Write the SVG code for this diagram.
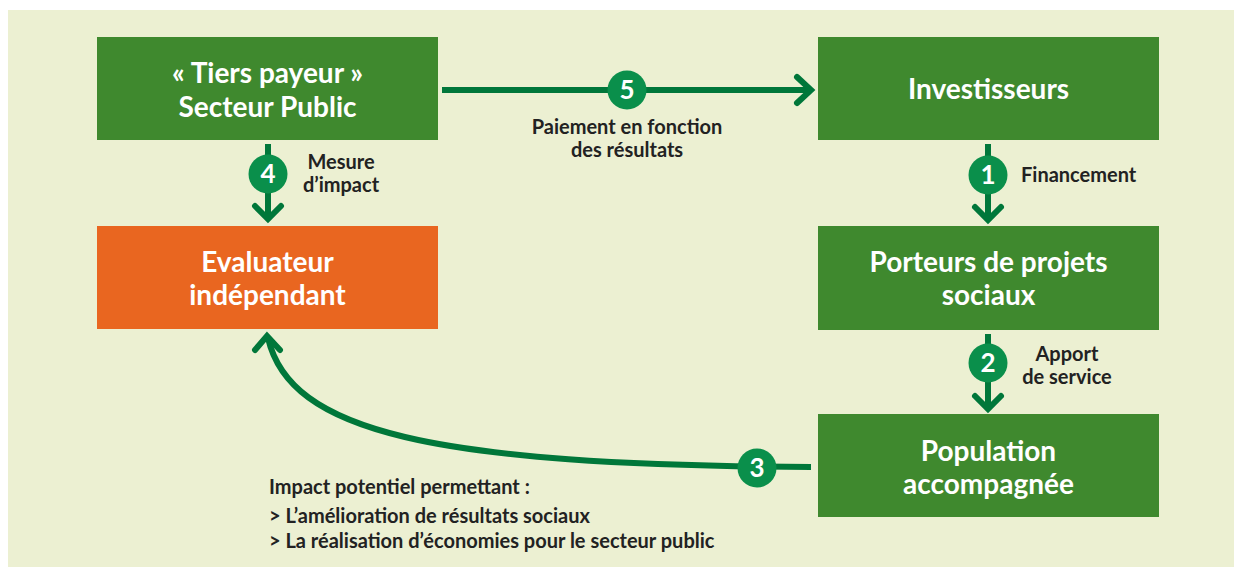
<svg xmlns="http://www.w3.org/2000/svg" width="1234" height="567" viewBox="0 0 1234 567">
  <style>
    .node-green { fill: #3f892e; }
    .node-orange { fill: #e96620; }
    .node-text { font-family: Lato, "Noto Sans", sans-serif; font-weight: 700; font-size: 28px; fill: #ffffff; text-anchor: middle; }
    .label { font-family: Lato, "Noto Sans", sans-serif; font-weight: 700; font-size: 20px; fill: #222222; }
    .wire { fill: none; stroke: #00773a; stroke-width: 6; }
    .head { fill: none; stroke: #00773a; stroke-width: 6; stroke-linecap: round; stroke-linejoin: miter; }
    .badge { fill: #0a8f4b; }
    .badge-text { font-family: Lato, "Noto Sans", sans-serif; font-weight: 700; font-size: 26px; fill: #ffffff; text-anchor: middle; }
  </style>

  <rect x="8" y="10" width="1226" height="557" fill="#ecf0d2"/>

  <g id="connectors">
    <!-- 5: public sector to investors -->
    <g id="edge-5">
      <line class="wire" x1="442" y1="90" x2="810" y2="90"/>
      <polyline class="head" points="797,77 811,90 797,103"/>
      <circle class="badge" cx="627" cy="90" r="19.5"/>
      <text class="badge-text" x="627" y="99">5</text>
    </g>
    <!-- 1: investors to project holders -->
    <g id="edge-1">
      <line class="wire" x1="988" y1="144" x2="988" y2="220"/>
      <polyline class="head" points="975,207 988,220 1001,207"/>
      <circle class="badge" cx="988" cy="175" r="19.5"/>
      <text class="badge-text" x="988" y="184">1</text>
    </g>
    <!-- 2: project holders to population -->
    <g id="edge-2">
      <line class="wire" x1="988" y1="334" x2="988" y2="409"/>
      <polyline class="head" points="975,396 988,409 1001,396"/>
      <circle class="badge" cx="988" cy="363" r="19.5"/>
      <text class="badge-text" x="988" y="372">2</text>
    </g>
    <!-- 4: public sector to evaluator -->
    <g id="edge-4">
      <line class="wire" x1="268" y1="144" x2="268" y2="219"/>
      <polyline class="head" points="255,206 268,219 281,206"/>
      <circle class="badge" cx="268" cy="174" r="19.5"/>
      <text class="badge-text" x="268" y="183">4</text>
    </g>
    <!-- 3: population back to evaluator -->
    <g id="edge-3">
      <path class="wire" d="M 811 467 C 430 465, 290 432, 268 338"/>
      <polyline class="head" points="255,350 267,336 280,350"/>
      <circle class="badge" cx="757" cy="468" r="19.5"/>
      <text class="badge-text" x="757" y="477">3</text>
    </g>
  </g>

  <g id="node-tiers-payeur">
    <rect class="node-green" x="97" y="37" width="341" height="103"/>
    <text class="node-text" x="267.5" y="83">« Tiers payeur »</text>
    <text class="node-text" x="267.5" y="117">Secteur Public</text>
  </g>

  <g id="node-investisseurs">
    <rect class="node-green" x="818" y="37" width="341" height="103"/>
    <text class="node-text" x="988.5" y="99">Investisseurs</text>
  </g>

  <g id="node-evaluateur">
    <rect class="node-orange" x="97" y="226" width="341" height="103"/>
    <text class="node-text" x="267.5" y="272">Evaluateur</text>
    <text class="node-text" x="267.5" y="305">indépendant</text>
  </g>

  <g id="node-porteurs">
    <rect class="node-green" x="818" y="226" width="341" height="104"/>
    <text class="node-text" x="988.5" y="272">Porteurs de projets</text>
    <text class="node-text" x="988.5" y="305">sociaux</text>
  </g>

  <g id="node-population">
    <rect class="node-green" x="818" y="414" width="341" height="103"/>
    <text class="node-text" x="988.5" y="461">Population</text>
    <text class="node-text" x="988.5" y="494">accompagnée</text>
  </g>

  <g id="labels">
    <text class="label" x="627" y="134" text-anchor="middle">Paiement en fonction</text>
    <text class="label" x="627" y="157" text-anchor="middle">des résultats</text>
    <text class="label" x="341" y="169" text-anchor="middle">Mesure</text>
    <text class="label" x="341" y="192" text-anchor="middle">d’impact</text>
    <text class="label" x="1021" y="182">Financement</text>
    <text class="label" x="1067" y="361" text-anchor="middle">Apport</text>
    <text class="label" x="1067" y="384" text-anchor="middle">de service</text>
    <text class="label" x="269" y="494">Impact potentiel permettant :</text>
    <text class="label" x="269" y="523">&gt; L’amélioration de résultats sociaux</text>
    <text class="label" x="269" y="548">&gt; La réalisation d’économies pour le secteur public</text>
  </g>
</svg>
